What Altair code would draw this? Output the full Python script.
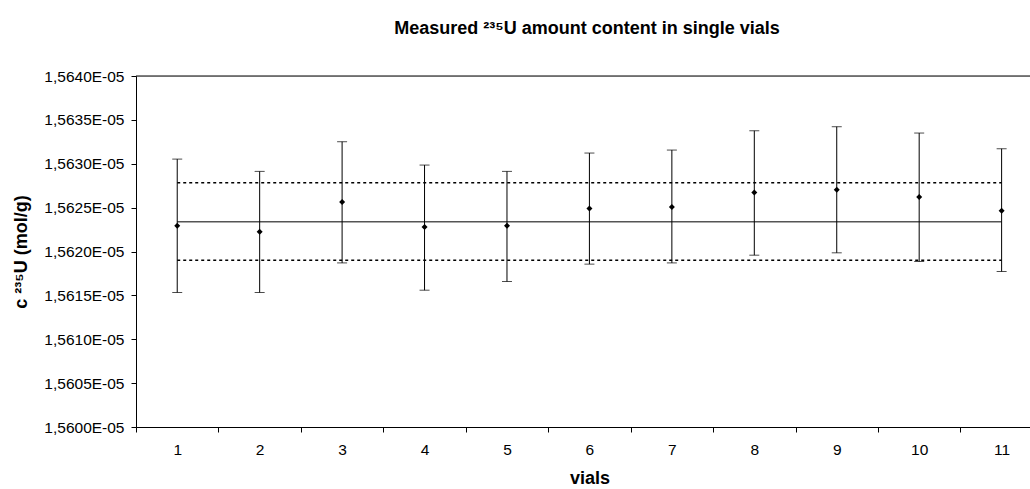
import altair as alt
import pandas as pd

# ---- data (values in mol/g) ----
vials = [1, 2, 3, 4, 5, 6, 7, 8, 9, 10, 11]
measured = [1.562293e-5, 1.562224e-5, 1.562563e-5, 1.562278e-5, 1.562293e-5, 1.562491e-5,
            1.562506e-5, 1.562673e-5, 1.562703e-5, 1.562620e-5, 1.562464e-5]
upper_err = [1.563053e-5, 1.562913e-5, 1.563251e-5, 1.562985e-5, 1.562913e-5, 1.563122e-5,
             1.563156e-5, 1.563376e-5, 1.563422e-5, 1.563350e-5, 1.563171e-5]
lower_err = [1.561533e-5, 1.561533e-5, 1.561870e-5, 1.561559e-5, 1.561658e-5, 1.561856e-5,
             1.561870e-5, 1.561958e-5, 1.561985e-5, 1.561886e-5, 1.561772e-5]
mean_value = [1.562338e-5]
band_upper = [1.562783e-5]
band_lower = [1.561901e-5]
y_ticks = [1.5600e-5, 1.5605e-5, 1.5610e-5, 1.5615e-5, 1.5620e-5,
           1.5625e-5, 1.5630e-5, 1.5635e-5, 1.5640e-5]

FONT = "Liberation Sans"
PLOT_W = 894
PLOT_H = 351
UNIT_PX = 82.44  # pixel width of one vial slot

df = pd.DataFrame({"vial": vials, "c": measured, "hi": upper_err, "lo": lower_err})
lines = pd.DataFrame({
    "x1": [vials[0]] * 3,
    "x2": [vials[-1]] * 3,
    "y": mean_value + band_upper + band_lower,
    "kind": ["mean", "upper", "lower"],
})
frame_df = pd.DataFrame({"y": [y_ticks[-1]]})

x_scale = alt.Scale(domain=[0.5, 0.5 + PLOT_W / UNIT_PX], nice=False, zero=False)
y_scale = alt.Scale(domain=[y_ticks[0], y_ticks[-1]], nice=False, zero=False)

x_axis = alt.Axis(
    values=vials, format="d", title="vials", grid=False,
    tickOffset=-UNIT_PX / 2, labelOffset=UNIT_PX / 2,
    labelFlush=False, labelOverlap=False, labelBound=False,
    domainColor="#000000", tickColor="#000000", tickSize=5,
    labelFont=FONT, labelFontSize=15.5, labelColor="#000000", labelPadding=10,
    titleFont=FONT, titleFontSize=18, titleFontWeight="bold", titleColor="#000000",
    titlePadding=12, titleX=(UNIT_PX * 11) / 2,
)
y_axis = alt.Axis(
    values=y_ticks, grid=False, title="c ²³⁵U (mol/g)",
    labelExpr="replace(format(datum.value*1e5, '.4f'), '.', ',') + 'E-05'",
    domainColor="#000000", tickColor="#000000", tickSize=5,
    labelFont=FONT, labelFontSize=15.5, labelColor="#000000", labelPadding=7,
    titleFont=FONT, titleFontSize=18, titleFontWeight="bold", titleColor="#000000",
    titlePadding=13,
)

base = alt.Chart(df)

err = base.mark_rule(color="#000000", strokeWidth=1).encode(
    x=alt.X("vial:Q", scale=x_scale, axis=x_axis),
    y=alt.Y("lo:Q", scale=y_scale, axis=y_axis),
    y2="hi:Q",
)
cap_hi = base.mark_tick(orient="horizontal", size=10, thickness=1, color="#000000").encode(
    x="vial:Q", y="hi:Q")
cap_lo = base.mark_tick(orient="horizontal", size=10, thickness=1, color="#000000").encode(
    x="vial:Q", y="lo:Q")
pts = base.mark_point(shape="diamond", filled=True, size=36, color="#000000", opacity=1).encode(
    x="vial:Q", y="c:Q")

mean_line = alt.Chart(lines).transform_filter("datum.kind == 'mean'").mark_rule(
    color="#555555", strokeWidth=1.5).encode(x="x1:Q", x2="x2:Q", y="y:Q")
band_lines = alt.Chart(lines).transform_filter("datum.kind != 'mean'").mark_rule(
    color="#000000", strokeWidth=1.5, strokeDash=[3, 3]).encode(x="x1:Q", x2="x2:Q", y="y:Q")
top_frame = alt.Chart(frame_df).mark_rule(color="#000000", strokeWidth=1).encode(
    x=alt.value(0), x2=alt.value(PLOT_W), y="y:Q")

chart = alt.layer(top_frame, mean_line, band_lines, err, cap_hi, cap_lo, pts).properties(
    width=PLOT_W, height=PLOT_H,
    title=alt.TitleParams(
        text="Measured ²³⁵U amount content in single vials",
        font=FONT, fontSize=18, fontWeight="bold", color="#000000",
        anchor="middle", frame="group", offset=31, dx=4,
    ),
    autosize=alt.AutoSizeParams(type="none"),
    padding={"left": 136, "top": 76, "right": 0, "bottom": 62},
).configure_view(stroke=None).configure(background="#ffffff")

chart.save("out.html", embed_options={"renderer": "svg", "actions": False})
